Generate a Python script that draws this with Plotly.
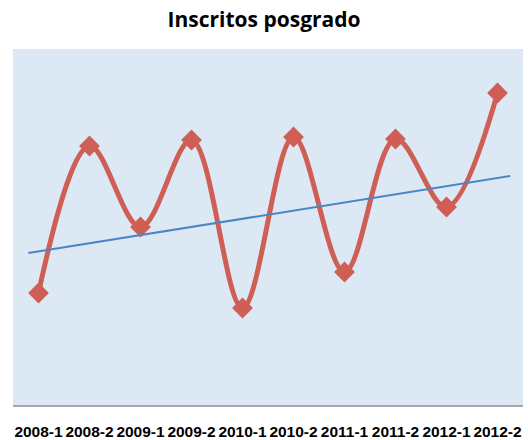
import plotly.graph_objects as go

categories = ["2008-1", "2008-2", "2009-1", "2009-2", "2010-1",
              "2010-2", "2011-1", "2011-2", "2012-1", "2012-2"]
inscritos = [112, 259, 178, 265, 97, 268, 133, 266, 198, 312]
# straight trend line, read at its two ends (category positions)
trend_x = [-0.2, 9.25]
trend_y = [152, 229]

xs = list(range(len(categories)))

fig = go.Figure()
fig.add_trace(go.Scatter(
    x=xs, y=inscritos, mode="lines+markers",
    line=dict(color="#CF5F55", width=5, shape="spline", smoothing=1.0),
    marker=dict(symbol="diamond", size=16, color="#CF5F55"),
    showlegend=False, hoverinfo="skip"))
fig.add_trace(go.Scatter(
    x=trend_x, y=trend_y, mode="lines",
    line=dict(color="#4A86C5", width=2),
    showlegend=False, hoverinfo="skip"))

fig.update_layout(
    width=528, height=440,
    margin=dict(l=13, r=5, t=49, b=35),
    paper_bgcolor="white", plot_bgcolor="#DCE9F5",
    title=dict(text="<b>Inscritos posgrado</b>", x=0.5, xanchor="center",
               y=1 - 20 / 440, yref="container", yanchor="middle",
               font=dict(family="Open Sans", size=21, color="black")),
    xaxis=dict(range=[-0.5, 9.5], tickmode="array", tickvals=xs,
               ticktext=categories, showgrid=False, zeroline=False,
               showline=True, linecolor="#A6A6A6", linewidth=2,
               ticks="", ticklabelstandoff=11, tickangle=0, automargin=False,
               tickfont=dict(family="Liberation Sans", size=15.5, color="black", weight="bold")),
    yaxis=dict(range=[0, 356], visible=False, showgrid=False, zeroline=False),
)
fig.write_html("out.html", config={"displayModeBar": False},
               post_script="document.body.style.margin='0';document.body.style.overflow='hidden';")
